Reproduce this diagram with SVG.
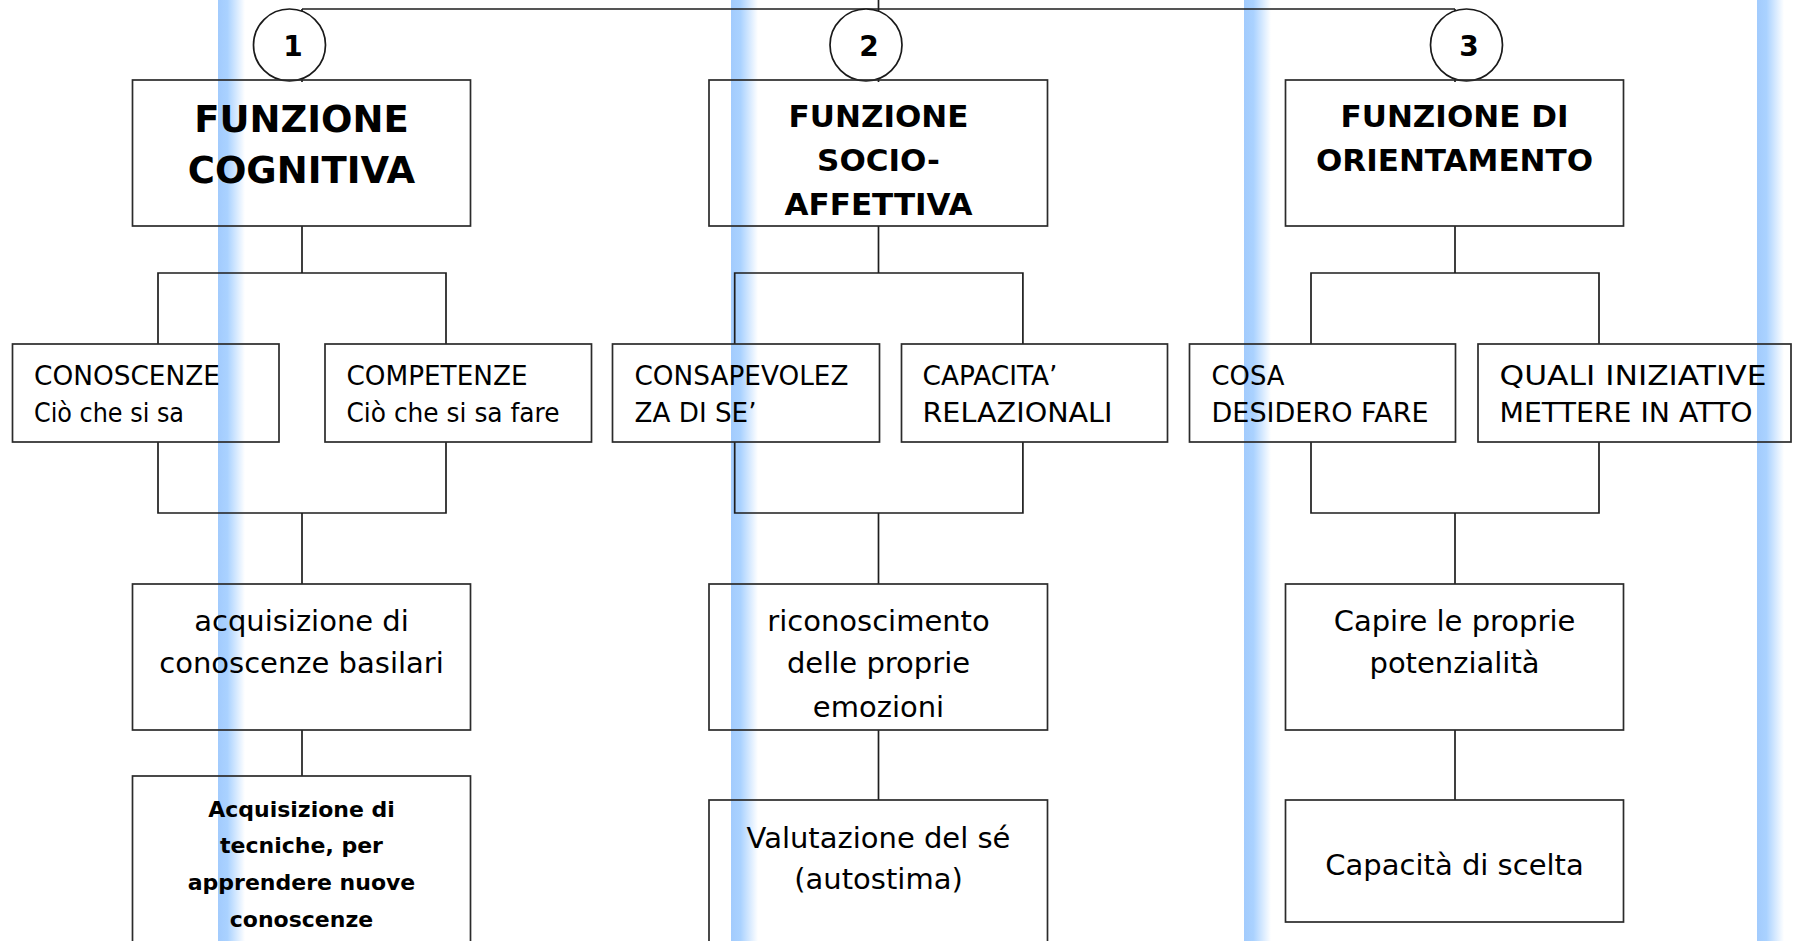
<svg xmlns="http://www.w3.org/2000/svg" width="1798" height="941" viewBox="0 0 1798 941">
  <defs>
    <!-- soft vertical guide band: solid blue on the left fading to white -->
    <linearGradient id="band" x1="0" y1="0" x2="1" y2="0">
      <stop offset="0" stop-color="#a2cbfd"/>
      <stop offset="0.35" stop-color="#aad2ff"/>
      <stop offset="1" stop-color="#ffffff"/>
    </linearGradient>
    <style>
      .box { fill: none; stroke: #2b2b2b; stroke-width: 1.7; }
      .circ { fill: #ffffff; stroke: #1a1a1a; stroke-width: 1.7; }
      .wire { fill: none; stroke: #1e1e1e; stroke-width: 1.7; }
      text { font-family: "DejaVu Sans", "Liberation Sans", sans-serif; fill: #000000; }
      .num { font-size: 28px; font-weight: bold; text-anchor: middle; }
      .t1 { font-size: 37px; font-weight: bold; text-anchor: middle; }
      .t2 { font-size: 31px; font-weight: bold; text-anchor: middle; }
      .sm { font-size: 26px; }
      .md { font-size: 29px; text-anchor: middle; }
      .bd { font-size: 22px; font-weight: bold; text-anchor: middle; }
    </style>
  </defs>

  <rect width="1798" height="941" fill="#ffffff"/>

  <!-- background bands -->
  <g id="bands" fill="url(#band)">
    <rect x="218" y="0" width="27" height="941"/>
    <rect x="731" y="0" width="27" height="941"/>
    <rect x="1244" y="0" width="27" height="941"/>
    <rect x="1757" y="0" width="27" height="941"/>
  </g>

  <!-- connectors -->
  <g id="connectors" class="wire">
    <path d="M878.5 0 V9 M302 9 H1455"/>
    <path d="M302 9 V82 M878.5 9 V82 M1455 9 V82"/>
    <!-- column 1 -->
    <path d="M302 226 V273 M158 344 V273 H446 V344"/>
    <path d="M158 442 V513 H446 V442 M302 513 V584"/>
    <path d="M302 730 V776"/>
    <!-- column 2 -->
    <path d="M878.5 226 V273 M734.7 344 V273 H1022.9 V344"/>
    <path d="M734.7 442 V513 H1022.9 V442 M878.5 513 V584"/>
    <path d="M878.5 730 V800"/>
    <!-- column 3 -->
    <path d="M1455 226 V273 M1311 344 V273 H1599 V344"/>
    <path d="M1311 442 V513 H1599 V442 M1455 513 V584"/>
    <path d="M1455 730 V800"/>
  </g>

  <!-- numbered markers -->
  <g id="n1"><circle class="circ" cx="289.5" cy="45" r="36"/><text class="num" x="293" y="56">1</text></g>
  <g id="n2"><circle class="circ" cx="866" cy="45" r="36"/><text class="num" x="869" y="56">2</text></g>
  <g id="n3"><circle class="circ" cx="1466.5" cy="45" r="36"/><text class="num" x="1469" y="56">3</text></g>

  <!-- column 1 -->
  <g id="funzione-cognitiva">
    <rect class="box" x="132.5" y="80" width="338" height="146"/>
    <text class="t1" x="301.5" y="132">FUNZIONE</text>
    <text class="t1" x="301.5" y="183">COGNITIVA</text>
  </g>
  <g id="conoscenze">
    <rect class="box" x="12.5" y="344" width="266.5" height="98"/>
    <text class="sm" x="34" y="385" textLength="186" lengthAdjust="spacingAndGlyphs">CONOSCENZE</text>
    <text class="sm" x="34" y="421.5" textLength="150" lengthAdjust="spacingAndGlyphs">Ciò che si sa</text>
  </g>
  <g id="competenze">
    <rect class="box" x="325" y="344" width="266.5" height="98"/>
    <text class="sm" x="346.5" y="385" textLength="181" lengthAdjust="spacingAndGlyphs">COMPETENZE</text>
    <text class="sm" x="346.5" y="421.5" textLength="213" lengthAdjust="spacingAndGlyphs">Ciò che si sa fare</text>
  </g>
  <g id="conoscenze-basilari">
    <rect class="box" x="132.5" y="584" width="338" height="146"/>
    <text class="md" x="301.5" y="630.5">acquisizione di</text>
    <text class="md" x="301.5" y="673">conoscenze basilari</text>
  </g>
  <g id="tecniche">
    <rect class="box" x="132.5" y="776" width="338" height="190"/>
    <text class="bd" x="301.5" y="816.5">Acquisizione di</text>
    <text class="bd" x="301.5" y="853">tecniche, per</text>
    <text class="bd" x="301.5" y="890">apprendere nuove</text>
    <text class="bd" x="301.5" y="926.5">conoscenze</text>
  </g>

  <!-- column 2 -->
  <g id="funzione-socio-affettiva">
    <rect class="box" x="709" y="80" width="338.5" height="146"/>
    <text class="t2" x="878.5" y="126.5">FUNZIONE</text>
    <text class="t2" x="878.5" y="170.5">SOCIO-</text>
    <text class="t2" x="878.5" y="215">AFFETTIVA</text>
  </g>
  <g id="consapevolezza">
    <rect class="box" x="612.5" y="344" width="267" height="98"/>
    <text class="sm" x="634.5" y="385" textLength="214" lengthAdjust="spacingAndGlyphs">CONSAPEVOLEZ</text>
    <text class="sm" x="634.5" y="421.5" textLength="122" lengthAdjust="spacingAndGlyphs">ZA DI SE’</text>
  </g>
  <g id="capacita-relazionali">
    <rect class="box" x="901.5" y="344" width="266" height="98"/>
    <text class="sm" x="922.5" y="385" textLength="135" lengthAdjust="spacingAndGlyphs">CAPACITA’</text>
    <text class="sm" x="922.5" y="421.5" textLength="190" lengthAdjust="spacingAndGlyphs">RELAZIONALI</text>
  </g>
  <g id="emozioni">
    <rect class="box" x="709" y="584" width="338.5" height="146"/>
    <text class="md" x="878.5" y="630.5">riconoscimento</text>
    <text class="md" x="878.5" y="673">delle proprie</text>
    <text class="md" x="878.5" y="717">emozioni</text>
  </g>
  <g id="autostima">
    <rect class="box" x="709" y="800" width="338.5" height="166"/>
    <text class="md" x="878.5" y="848">Valutazione del sé</text>
    <text class="md" x="878.5" y="889">(autostima)</text>
  </g>

  <!-- column 3 -->
  <g id="funzione-orientamento">
    <rect class="box" x="1285.5" y="80" width="338" height="146"/>
    <text class="t2" x="1454.5" y="126.5">FUNZIONE DI</text>
    <text class="t2" x="1454.5" y="170.5">ORIENTAMENTO</text>
  </g>
  <g id="cosa-desidero">
    <rect class="box" x="1189.5" y="344" width="266" height="98"/>
    <text class="sm" x="1211.5" y="385" textLength="73" lengthAdjust="spacingAndGlyphs">COSA</text>
    <text class="sm" x="1211.5" y="421.5" textLength="217" lengthAdjust="spacingAndGlyphs">DESIDERO FARE</text>
  </g>
  <g id="quali-iniziative">
    <rect class="box" x="1478" y="344" width="313" height="98"/>
    <text class="sm" x="1499.5" y="385" textLength="267" lengthAdjust="spacingAndGlyphs">QUALI INIZIATIVE</text>
    <text class="sm" x="1499.5" y="421.5" textLength="253" lengthAdjust="spacingAndGlyphs">METTERE IN ATTO</text>
  </g>
  <g id="potenzialita">
    <rect class="box" x="1285.5" y="584" width="338" height="146"/>
    <text class="md" x="1454.5" y="630.5">Capire le proprie</text>
    <text class="md" x="1454.5" y="673">potenzialità</text>
  </g>
  <g id="scelta">
    <rect class="box" x="1285.5" y="800" width="338" height="122"/>
    <text class="md" x="1454.5" y="875">Capacità di scelta</text>
  </g>
</svg>
